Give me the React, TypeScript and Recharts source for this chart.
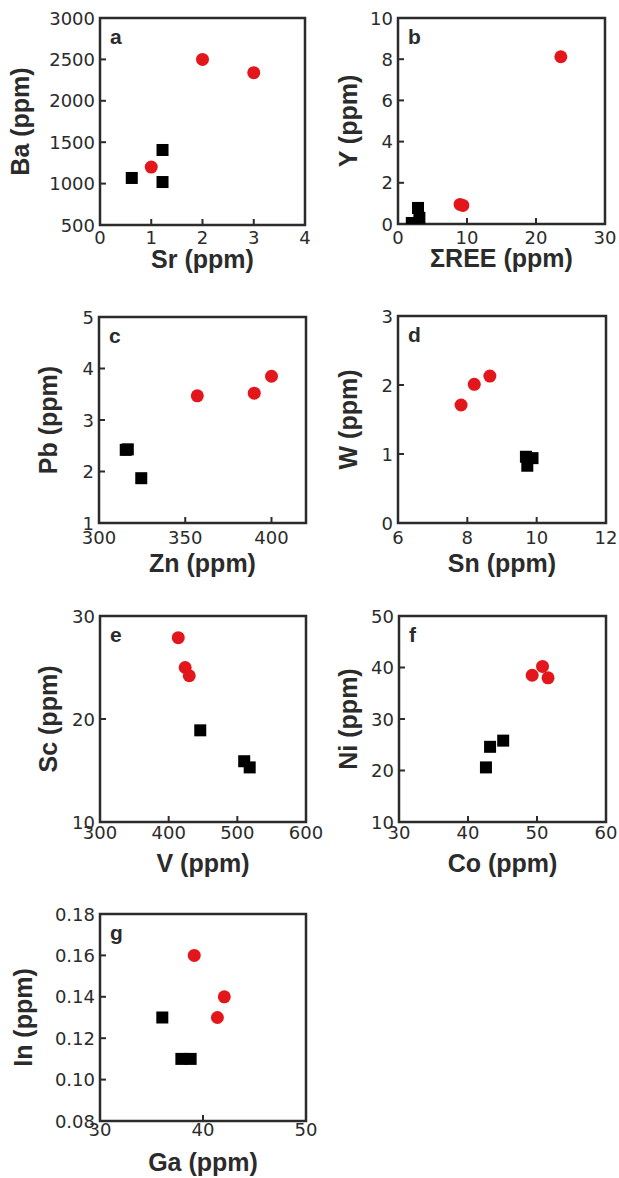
import React from "react";
import { ScatterChart, Scatter, XAxis, YAxis, ReferenceArea } from "recharts";

// panel a: Sr vs Ba
const srRed = [1.0, 2.0, 3.0];
const baRed = [1200, 2500, 2340];
const srBlack = [0.62, 1.22, 1.22];
const baBlack = [1068, 1406, 1019];
const srTicks = [0, 1, 2, 3, 4];
const baTicks = [500, 1000, 1500, 2000, 2500, 3000];

// panel b: ΣREE vs Y
const reeRed = [9.0, 9.4, 23.6];
const yRed = [0.95, 0.9, 8.12];
const reeBlack = [3.1, 2.0, 2.9];
const yBlack = [0.3, 0.05, 0.78];
const reeTicks = [0, 10, 20, 30];
const yTicks = [0, 2, 4, 6, 8, 10];

// panel c: Zn vs Pb
const znRed = [357, 390, 400];
const pbRed = [3.47, 3.52, 3.85];
const znBlack = [315.5, 316.7, 324.5];
const pbBlack = [2.42, 2.43, 1.87];
const znTicks = [300, 350, 400];
const pbTicks = [1, 2, 3, 4, 5];

// panel d: Sn vs W
const snRed = [7.82, 8.2, 8.65];
const wRed = [1.71, 2.01, 2.13];
const snBlack = [9.88, 9.69, 9.73];
const wBlack = [0.94, 0.96, 0.83];
const snTicks = [6, 8, 10, 12];
const wTicks = [0, 1, 2, 3];

// panel e: V vs Sc
const vRed = [414, 424, 430];
const scRed = [27.9, 25.0, 24.2];
const vBlack = [446, 510, 518];
const scBlack = [18.9, 15.9, 15.3];
const vTicks = [300, 400, 500, 600];
const scTicks = [10, 20, 30];

// panel f: Co vs Ni
const coRed = [49.3, 50.8, 51.6];
const niRed = [38.5, 40.2, 38.0];
const coBlack = [42.6, 43.2, 45.1];
const niBlack = [20.6, 24.6, 25.8];
const coTicks = [30, 40, 50, 60];
const niTicks = [10, 20, 30, 40, 50];

// panel g: Ga vs In
const gaRed = [39.15, 42.07, 41.4];
const inRed = [0.16, 0.14, 0.13];
const gaBlack = [36.05, 37.9, 38.8];
const inBlack = [0.13, 0.11, 0.11];
const gaTicks = [30, 40, 50];
const inTicks = [0.08, 0.1, 0.12, 0.14, 0.16, 0.18];

const L = 100;
const T = 20;
const R = 26;
const B = 70;
const INK = "#2b2b2b";
const RED = "#e3161b";
const tickFont = "'DejaVu Sans', sans-serif";
const titleFont = "'Liberation Sans', Arial, sans-serif";

const zip = (xs: number[], ys: number[]) => xs.map((x, i) => ({ x, y: ys[i] }));

function Panel(props: any) {
  const {
    letter, box, xTitle, yTitle, xDomain, yDomain, xTicks, yTicks,
    redX, redY, blackX, blackY, yTitleDx, xTickDy, xTitleDy, fmt,
  } = props;
  const w = box[2] - box[0];
  const h = box[3] - box[1];
  const fmtY = fmt || ((v: number) => String(v));

  const XTick = ({ x, payload }: any) => (
    <g>
      <line x1={x} x2={x} y1={T + h} y2={T + h - 6} stroke={INK} strokeWidth={2} />
      <text x={x} y={T + h + xTickDy} textAnchor="middle" fontFamily={tickFont} fontSize={18} fill={INK}>
        {payload.value}
      </text>
    </g>
  );

  const YTick = ({ y, payload }: any) => (
    <g>
      <line x1={L} x2={L + 6} y1={y} y2={y} stroke={INK} strokeWidth={2} />
      <text x={L - 5} y={y + 6.5} textAnchor="end" fontFamily={tickFont} fontSize={18} fill={INK}>
        {fmtY(payload.value)}
      </text>
    </g>
  );

  const XTitle = () => (
    <text x={L + w / 2} y={T + h + xTitleDy} textAnchor="middle" fontFamily={titleFont}
      fontWeight="bold" fontSize={25} fill={INK}>
      {xTitle}
    </text>
  );

  const cy = T + h / 2;
  const tx = L + yTitleDx + 9;
  const YTitle = () => (
    <text x={tx} y={cy} transform={`rotate(-90 ${tx} ${cy})`} textAnchor="middle"
      fontFamily={titleFont} fontWeight="bold" fontSize={25} fill={INK}>
      {yTitle}
    </text>
  );

  const Letter = () => (
    <text x={L + 10} y={T + 26} fontFamily={titleFont} fontWeight="bold" fontSize={21} fill={INK}>
      {letter}
    </text>
  );

  return (
    <div style={{ position: "absolute", left: box[0] - L, top: box[1] - T }}>
      <ScatterChart width={w + L + R} height={h + T + B} margin={{ top: T, right: R, left: 0, bottom: 0 }}>
        <XAxis type="number" dataKey="x" domain={xDomain} ticks={xTicks} interval={0}
          allowDataOverflow axisLine={false} tickLine={false} height={B}
          tick={<XTick />} label={<XTitle />} />
        <YAxis type="number" dataKey="y" domain={yDomain} ticks={yTicks} interval={0}
          allowDataOverflow axisLine={false} tickLine={false} width={L}
          tick={<YTick />} label={<YTitle />} />
        <ReferenceArea x1={xDomain[0]} x2={xDomain[1]} y1={yDomain[0]} y2={yDomain[1]}
          fill="none" fillOpacity={0} stroke={INK} strokeWidth={2.5} label={<Letter />} />
        <Scatter data={zip(blackX, blackY)} isAnimationActive={false}
          shape={(p: any) => <rect x={p.cx - 6} y={p.cy - 6} width={12} height={12} fill="#000" />} />
        <Scatter data={zip(redX, redY)} isAnimationActive={false}
          shape={(p: any) => <circle cx={p.cx} cy={p.cy} r={6.5} fill={RED} />} />
      </ScatterChart>
    </div>
  );
}

export default function App() {
  return (
    <div style={{ position: "absolute", left: 0, top: 0, width: 619, height: 1178, background: "#fff", overflow: "hidden" }}>
      <Panel letter="a" box={[100, 18, 305, 225]} xTitle="Sr (ppm)" yTitle="Ba (ppm)"
        xDomain={[0, 4]} yDomain={[500, 3000]} xTicks={srTicks} yTicks={baTicks}
        redX={srRed} redY={baRed} blackX={srBlack} blackY={baBlack}
        yTitleDx={-80} xTickDy={19} xTitleDy={43} />
      <Panel letter="b" box={[398, 18, 605, 224]} xTitle="ΣREE (ppm)" yTitle="Y (ppm)"
        xDomain={[0, 30]} yDomain={[0, 10]} xTicks={reeTicks} yTicks={yTicks}
        redX={reeRed} redY={yRed} blackX={reeBlack} blackY={yBlack}
        yTitleDx={-50} xTickDy={20} xTitleDy={43} />
      <Panel letter="c" box={[99, 317, 306, 523]} xTitle="Zn (ppm)" yTitle="Pb (ppm)"
        xDomain={[300, 420]} yDomain={[1, 5]} xTicks={znTicks} yTicks={pbTicks}
        redX={znRed} redY={pbRed} blackX={znBlack} blackY={pbBlack}
        yTitleDx={-51} xTickDy={21} xTitleDy={49} />
      <Panel letter="d" box={[398, 316, 606, 523]} xTitle="Sn (ppm)" yTitle="W (ppm)"
        xDomain={[6, 12]} yDomain={[0, 3]} xTicks={snTicks} yTicks={wTicks}
        redX={snRed} redY={wRed} blackX={snBlack} blackY={wBlack}
        yTitleDx={-50} xTickDy={21} xTitleDy={49} />
      <Panel letter="e" box={[100, 616, 306, 822]} xTitle="V (ppm)" yTitle="Sc (ppm)"
        xDomain={[300, 600]} yDomain={[10, 30]} xTicks={vTicks} yTicks={scTicks}
        redX={vRed} redY={scRed} blackX={vBlack} blackY={scBlack}
        yTitleDx={-52} xTickDy={17} xTitleDy={50} />
      <Panel letter="f" box={[399, 616, 606, 822]} xTitle="Co (ppm)" yTitle="Ni (ppm)"
        xDomain={[30, 60]} yDomain={[10, 50]} xTicks={coTicks} yTicks={niTicks}
        redX={coRed} redY={niRed} blackX={coBlack} blackY={niBlack}
        yTitleDx={-51} xTickDy={17} xTitleDy={50} />
      <Panel letter="g" box={[100, 914, 306, 1121]} xTitle="Ga (ppm)" yTitle="In (ppm)"
        xDomain={[30, 50]} yDomain={[0.08, 0.18]} xTicks={gaTicks} yTicks={inTicks}
        redX={gaRed} redY={inRed} blackX={gaBlack} blackY={gaBlack.map((_, i) => inBlack[i])}
        yTitleDx={-77} xTickDy={15} xTitleDy={50} fmt={(v: number) => v.toFixed(2)} />
    </div>
  );
}
